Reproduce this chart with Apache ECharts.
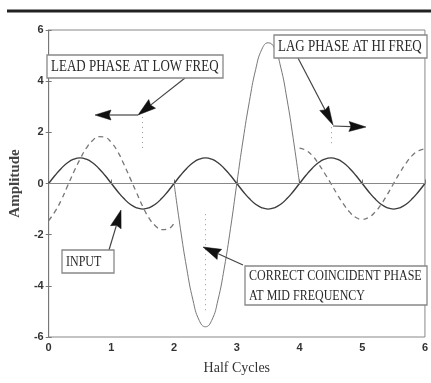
<!DOCTYPE html>
<html>
<head>
<meta charset="utf-8">
<script src="https://cdn.jsdelivr.net/npm/echarts@6/dist/echarts.min.js"></script>
<style>
html,body{margin:0;padding:0;background:#fff;}
#c{width:431px;height:383px;}
</style>
</head>
<body>
<div id="c"></div>
<script>
// ---- data ----
var xTicks = ['0','1','2','3','4','5','6'];
var yTicks = ['-6','-4','-2','0','2','4','6'];

// input sine, x = 0..6 step 0.1
var inputX = [0,0.1,0.2,0.3,0.4,0.5,0.6,0.7,0.8,0.9,1,1.1,1.2,1.3,1.4,1.5,1.6,1.7,1.8,1.9,2,2.1,2.2,2.3,2.4,2.5,2.6,2.7,2.8,2.9,3,3.1,3.2,3.3,3.4,3.5,3.6,3.7,3.8,3.9,4,4.1,4.2,4.3,4.4,4.5,4.6,4.7,4.8,4.9,5,5.1,5.2,5.3,5.4,5.5,5.6,5.7,5.8,5.9,6];
var inputY = [0,0.31,0.59,0.81,0.95,1,0.95,0.81,0.59,0.31,0,-0.31,-0.59,-0.81,-0.95,-1,-0.95,-0.81,-0.59,-0.31,0,0.31,0.59,0.81,0.95,1,0.95,0.81,0.59,0.31,0,-0.31,-0.59,-0.81,-0.95,-1,-0.95,-0.81,-0.59,-0.31,0,0.31,0.59,0.81,0.95,1,0.95,0.81,0.59,0.31,0,-0.31,-0.59,-0.81,-0.95,-1,-0.95,-0.81,-0.59,-0.31,0];

// low-frequency output (leading), x = 0..2
var lowX = [0,0.1,0.2,0.3,0.4,0.5,0.6,0.7,0.8,0.9,1,1.1,1.2,1.3,1.4,1.5,1.6,1.7,1.8,1.9,2];
var lowY = [-1.45,-1.1,-0.65,-0.1,0.45,0.95,1.38,1.68,1.83,1.8,1.6,1.25,0.75,0.2,-0.35,-0.9,-1.35,-1.65,-1.8,-1.78,-1.55];

// mid-frequency output (coincident), x = 2..4
var midX = [2,2.1,2.2,2.3,2.4,2.5,2.6,2.7,2.8,2.9,3,3.1,3.2,3.3,3.4,3.5,3.6,3.7,3.8,3.9,4];
var midY = [0,-1.75,-3.3,-4.55,-5.35,-5.6,-5.35,-4.55,-3.3,-1.75,0,1.7,3.2,4.45,5.25,5.5,5.3,4.55,3.3,1.75,0];

// high-frequency output (lagging), x = 4..6
var highX = [4,4.1,4.2,4.3,4.4,4.5,4.6,4.7,4.8,4.9,5,5.1,5.2,5.3,5.4,5.5,5.6,5.7,5.8,5.9,6];
var highY = [1.38,1.3,1.1,0.78,0.4,0,-0.42,-0.8,-1.12,-1.33,-1.4,-1.33,-1.13,-0.82,-0.43,0,0.42,0.8,1.1,1.28,1.35];

// dotted guide positions (x values)
var guideX = [1.5, 2.5, 4.5];

function pairs(xs, ys){ return xs.map(function(x,i){ return [x, ys[i]]; }); }

var chart = echarts.init(document.getElementById('c'), null, {renderer:'canvas'});

var tickFont = {fontFamily:'Liberation Sans', fontWeight:'bold', fontSize:11, color:'#333'};

var option = {
  animation:false,
  backgroundColor:'#fff',
  grid:{left:39, right:1, top:30, bottom:46, show:true, borderColor:'#888', borderWidth:1},
  xAxis:[{
    type:'value', min:0, max:6, interval:1,
    axisLine:{show:true, lineStyle:{color:'#777', width:1}},
    axisTick:{show:true, inside:true, length:4, lineStyle:{color:'#777'}},
    axisLabel:Object.assign({margin:5, formatter:function(v){ return xTicks[Math.round(v)]; }}, tickFont),
    splitLine:{show:false},
    name:'Half Cycles', nameLocation:'middle', nameGap:24,
    nameTextStyle:{fontFamily:'Liberation Serif', fontSize:14, color:'#333'}
  }],
  yAxis:[{
    type:'value', min:-6, max:6, interval:2,
    axisLine:{show:true, lineStyle:{color:'#777', width:1}},
    axisTick:{show:true, length:3, lineStyle:{color:'#777'}},
    axisLabel:Object.assign({margin:5, formatter:function(v){ return yTicks[Math.round((v+6)/2)]; }}, tickFont),
    splitLine:{show:false},
    name:'Amplitude', nameLocation:'middle', nameGap:25, nameRotate:90,
    nameTextStyle:{fontFamily:'Liberation Serif', fontWeight:'bold', fontSize:15, color:'#444'}
  },{
    type:'value', min:-6, max:6, interval:2, position:'left',
    axisLine:{show:false},
    axisTick:{show:true, inside:true, length:3, lineStyle:{color:'#777'}},
    axisLabel:{show:false}, splitLine:{show:false}
  }],
  series:[
    {type:'line', name:'input', data:pairs(inputX, inputY), smooth:true, showSymbol:false,
     lineStyle:{color:'#3c3c3c', width:1.4}, z:3,
     markLine:{silent:true, symbol:'none', label:{show:false},
       lineStyle:{color:'#888', width:1, type:'solid'},
       data:[{yAxis:0}]}},
    {type:'line', name:'low', data:pairs(lowX, lowY), smooth:true, showSymbol:false,
     lineStyle:{color:'#777', width:1.3, type:[5,4]}, z:2,
     markLine:{silent:true, symbol:'none', label:{show:false},
       lineStyle:{color:'#999', width:1, type:[1,4]},
       data:[
         [{coord:[guideX[0],2.6]},{coord:[guideX[0],1.3]}],
         [{coord:[guideX[1],-1.2]},{coord:[guideX[1],-5.0]}],
         [{coord:[guideX[2],2.2]},{coord:[guideX[2],1.5]}]
       ]}},
    {type:'line', name:'mid', data:pairs(midX, midY), smooth:true, showSymbol:false,
     lineStyle:{color:'#777', width:1}, z:2},
    {type:'line', name:'high', data:pairs(highX, highY), smooth:true, showSymbol:false,
     lineStyle:{color:'#777', width:1.3, type:[5,4]}, z:2}
  ]
};
chart.setOption(option);

// ---- annotations ----
function arrow(x1,y1,x2,y2,hl,hw){
  var dx=x2-x1, dy=y2-y1, L=Math.sqrt(dx*dx+dy*dy), ux=dx/L, uy=dy/L;
  var bx=x2-ux*hl, by=y2-uy*hl, px=-uy*hw/2, py=ux*hw/2;
  return [
    {type:'line', shape:{x1:x1,y1:y1,x2:bx+ux*2,y2:by+uy*2}, style:{stroke:'#444', lineWidth:1.2}, z:20},
    {type:'polygon', shape:{points:[[x2,y2],[bx+px,by+py],[bx+ux*2,by+uy*2],[bx-px,by-py]]}, style:{fill:'#111', stroke:'#111', lineWidth:0.5}, z:21}
  ];
}
function box(x,y,w,h,lines,fs,sy){
  var els=[{type:'rect', shape:{x:x,y:y,width:w,height:h}, style:{fill:'#fff', stroke:'#888', lineWidth:1.3}, z:30}];
  var step=h/lines.length;
  lines.forEach(function(t,i){
    els.push({type:'text', x:x+4, y:y+step*(i+0.5)+0.5, scaleY:sy, z:31,
      style:{text:t, fontFamily:'Liberation Serif', fontSize:fs, fill:'#2a2a2a', align:'left', verticalAlign:'middle'}});
  });
  return els;
}
var g=[];
g.push({type:'line', shape:{x1:7,y1:11,x2:431,y2:11}, style:{stroke:'#222', lineWidth:3}, z:40});
g=g.concat(box(47,55,176,23,['LEAD PHASE AT LOW FREQ'],13,1.3));
g=g.concat(box(274,35,153,23,['LAG PHASE AT HI FREQ'],13,1.3));
g=g.concat(box(62,250,52,23,['INPUT'],12,1.3));
g=g.concat(box(245,266,182,39,['CORRECT COINCIDENT PHASE','AT MID FREQUENCY'],12,1.3));
g=g.concat(arrow(185,78,138,115,18,11));
g=g.concat(arrow(138,115,95,115,16,10));
g=g.concat(arrow(298,58,333,125,19,10));
g=g.concat(arrow(333,126,366,127,17,10));
g=g.concat(arrow(109,250,121,210,18,11));
g=g.concat(arrow(243,265,203,247,18,11));
chart.setOption({graphic:{elements:g}});
</script>
</body>
</html>
